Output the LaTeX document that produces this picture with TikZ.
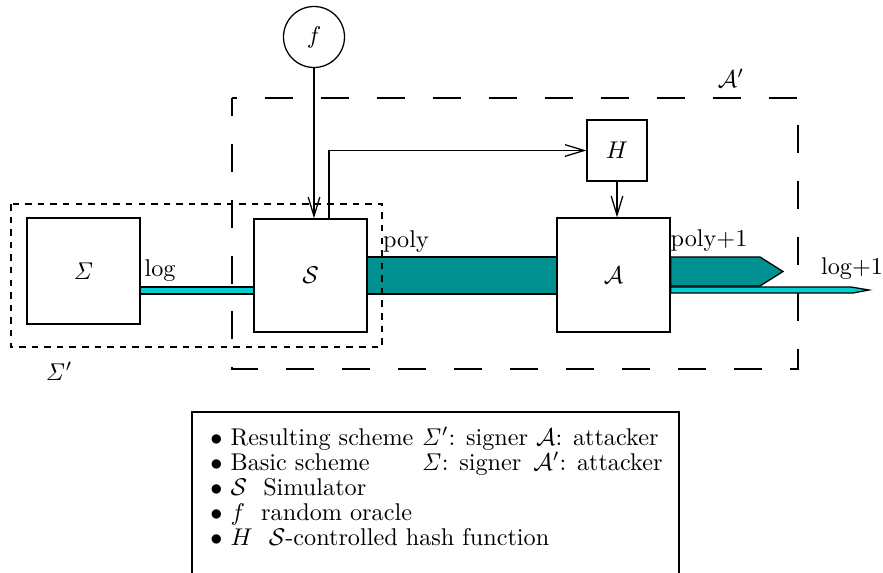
\documentclass[tikz,border=0pt]{standalone}
\usetikzlibrary{arrows.meta,backgrounds}
\definecolor{thinch}{RGB}{0,208,208}
\definecolor{thickch}{RGB}{0,144,144}
\newdimen\px \px=0.413pt
\begin{document}
\begin{tikzpicture}[x=0.413pt, y=-0.413pt,
  box/.style={draw, line width=0.53pt, fill=white, inner sep=0pt},
  lbl/.style={inner sep=0pt},
  arr/.style={line width=0.53pt, -{Straight Barb[length=7.9pt,width=4.8pt]}},
  chanthin/.style={draw, line width=0.53pt, fill=thinch},
  chanthick/.style={draw, line width=0.53pt, fill=thickch},
  longdash/.style={line width=0.53pt, dash pattern=on 11.56pt off 11.56pt, dash phase=9.5pt},
  shortdash/.style={line width=0.53pt, dash pattern=on 2.7pt off 2.5pt},
  legline/.style={anchor=base west, inner sep=0pt},
  legframe/.style={line width=1.14pt}]
\useasboundingbox (0,0) rectangle (883,573);

% main blocks
\node[box, minimum width=113\px, minimum height=106\px] (sig) at (83.5,271) {$\mathit{\Sigma}$};
\node[box, minimum width=113\px, minimum height=113\px] (sim) at (310.5,275.5) {$\mathcal{S}$};
\node[box, minimum width=113\px, minimum height=114\px] (att) at (613.5,275) {$\mathcal{A}$};
\node[box, minimum width=60\px, minimum height=61\px] (hash) at (617,150.5) {$H$};
\node[box, circle, minimum size=61\px] (orc) at (314,37) {$f$};

% channels behind the blocks
\begin{scope}[on background layer]
  \draw[chanthin] (sig.east |- 0,287) rectangle (sim.west |- 0,294);
  \draw[chanthick] (sim.east |- 0,257) rectangle (att.west |- 0,294);
  \draw[chanthick] (att.east |- 0,257) -- (760,257) -- (783,271.5) -- (760,286)
        -- (att.east |- 0,286) -- cycle;
  \draw[chanthin] (att.east |- 0,287) -- (851,287) -- (869,290) -- (853,293)
        -- (att.east |- 0,293) -- cycle;
\end{scope}

% oracle queries
\draw[arr] (orc.south) -- (orc.south |- sim.north);
\draw[arr] (329,0 |- sim.north) |- (hash.west);
\draw[arr] (hash.south) -- (hash.south |- att.north);

% channel labels
\node[lbl] (llog) at (160,271) {log};
\node[lbl] (lpoly) at (406,242) {poly};
\node[lbl] (lpolyone) at (709,241) {poly+1};
\node[lbl] (llogone) at (852,269) {log+1};

% scheme boundaries
\draw[shortdash] (11,204) rectangle (382,347);
\draw[longdash] (232,98) -- (798,98) -- (798,369) -- (232,369) -- cycle;
\node[lbl] (lsigp) at (59,371) {$\mathit{\Sigma}'$};
\node[lbl] (lattp) at (731,78) {$\mathcal{A}'$};

% legend
\draw[legframe] (192,573) -- (192,412) -- (679,412) -- (679,573);
\node[legline] (leg1) at (210,445) {$\bullet$ Resulting scheme $\mathit{\Sigma}'$: signer $\mathcal{A}$: attacker};
\node[legline] (leg2) at (210,470) {$\bullet$ \rlap{Basic scheme}\hphantom{Resulting scheme} $\mathit{\Sigma}$: signer\,\ $\mathcal{A}'$: attacker};
\node[legline] (leg3) at (210,495) {$\bullet$ $\mathcal{S}$\ \ Simulator};
\node[legline] (leg4) at (210,520) {$\bullet$ $f$\ \ random oracle};
\node[legline] (leg5) at (210,545) {$\bullet$ $H$\ \ $\mathcal{S}$-controlled hash function};
\end{tikzpicture}
\end{document}
